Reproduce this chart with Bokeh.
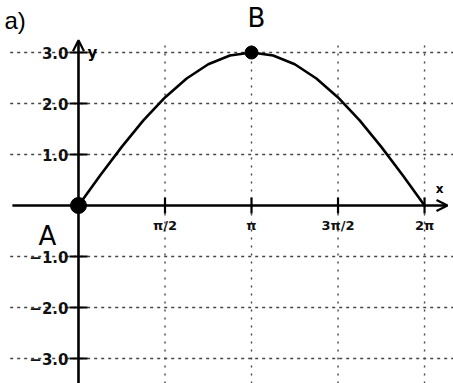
import math
from bokeh.plotting import figure
from bokeh.models import Range1d, Arrow, OpenHead, Label, ColumnDataSource
from bokeh.core.properties import value
from bokeh.embed import file_html
from bokeh.resources import INLINE

PI = math.pi

# Curve y = 3 sin(x/2) sampled every pi/8 (x given as multiples of pi)
curve_x_pi = [0, 0.125, 0.25, 0.375, 0.5, 0.625, 0.75, 0.875, 1.0,
              1.125, 1.25, 1.375, 1.5, 1.625, 1.75, 1.875, 2.0]
curve_y = [0.0, 0.59, 1.15, 1.67, 2.12, 2.49, 2.77, 2.94, 3.0,
           2.94, 2.77, 2.49, 2.12, 1.67, 1.15, 0.59, 0.0]

# Marked points
point_names = ["A", "B"]
point_x_pi = [0.0, 1.0]
point_y = [0.0, 3.0]

# Axis ticks
x_ticks_pi = [0.5, 1.0, 1.5, 2.0]
x_tick_labels = ["π/2", "π", "3π/2", "2π"]
y_ticks = [-3.0, -2.0, -1.0, 1.0, 2.0, 3.0]
y_tick_labels = ["−3.0", "−2.0", "−1.0", "1.0", "2.0", "3.0"]

FONT = "DejaVu Sans"
X_LO, X_HI = -1.416, 6.809
Y_LO, Y_HI = -3.49, 4.02

p = figure(width=453, height=383, output_backend="svg", toolbar_location=None,
           x_axis_type=None, y_axis_type=None, min_border=0,
           x_range=Range1d(X_LO, X_HI), y_range=Range1d(Y_LO, Y_HI))
p.outline_line_color = None
p.background_fill_color = "white"
p.border_fill_color = "white"
p.xgrid.visible = False
p.ygrid.visible = False

x_ticks = [t * PI for t in x_ticks_pi]

# dotted grid lines
n_y, n_x = len(y_ticks), len(x_ticks)
p.segment(x0=[-1.24] * n_y, y0=y_ticks, x1=[X_HI] * n_y, y1=y_ticks,
          line_color="#444444", line_width=1.4, line_dash="3 4")
p.segment(x0=x_ticks, y0=[Y_LO] * n_x, x1=x_ticks, y1=[3.2] * n_x,
          line_color="#444444", line_width=1.4, line_dash="2 6")

# axes with arrow heads
p.add_layout(Arrow(end=OpenHead(size=11, line_width=2.2, line_color="black"),
                   x_start=-1.2, y_start=0, x_end=6.7, y_end=0,
                   line_width=2.6, line_color="black"))
p.add_layout(Arrow(end=OpenHead(size=11, line_width=2.2, line_color="black"),
                   x_start=0, y_start=Y_LO - 0.2, x_end=0, y_end=3.24,
                   line_width=2.6, line_color="black"))

# tick marks crossing the axes
xt = ColumnDataSource(dict(x=x_ticks, y=[0] * n_x, lab=x_tick_labels))
yt = ColumnDataSource(dict(x=[0] * n_y, y=y_ticks, lab=y_tick_labels))
p.scatter("x", "y", source=xt, marker="dash", angle=PI / 2, size=16,
          line_color="black", line_width=2.2)
p.scatter("x", "y", source=yt, marker="dash", size=18,
          line_color="black", line_width=2.2)

p.text("x", "y", text="lab", source=xt, text_font=value(FONT), text_font_size="13px",
       text_font_style="bold", text_align="center", text_baseline="middle",
       y_offset=20, text_color="#111111")
p.text("x", "y", text="lab", source=yt, text_font=value(FONT), text_font_size="15px",
       text_font_style="bold", text_align="right", text_baseline="middle",
       x_offset=-10, text_color="#111111")

# the curve
p.line([t * PI for t in curve_x_pi], curve_y, line_width=2.6, line_color="black")

# points A and B
pts = ColumnDataSource(dict(x=[t * PI for t in point_x_pi], y=point_y, name=point_names,
                            xo=[-31, 5], yo=[30, -35], sz=[16, 13]))
p.scatter("x", "y", source=pts, size="sz", fill_color="black", line_color="black")
p.text("x", "y", text="name", source=pts, x_offset="xo", y_offset="yo",
       text_font=value(FONT), text_font_size="26px", text_align="center",
       text_baseline="middle", text_color="black")

# axis names
p.text([2 * PI], [0], text=["x"], x_offset=15, y_offset=-17, text_font=value(FONT),
       text_font_size="12px", text_font_style="bold", text_align="center",
       text_baseline="middle")
p.text([0], [3.0], text=["y"], x_offset=14, y_offset=0, text_font=value(FONT),
       text_font_size="15px", text_font_style="bold", text_align="center",
       text_baseline="middle")

p.add_layout(Label(x=4, y=350, x_units="screen", y_units="screen", text="a)",
                   text_font="Liberation Sans", text_font_size="24px",
                   text_color="black"))

open("out.html", "w").write(file_html(p, INLINE))
